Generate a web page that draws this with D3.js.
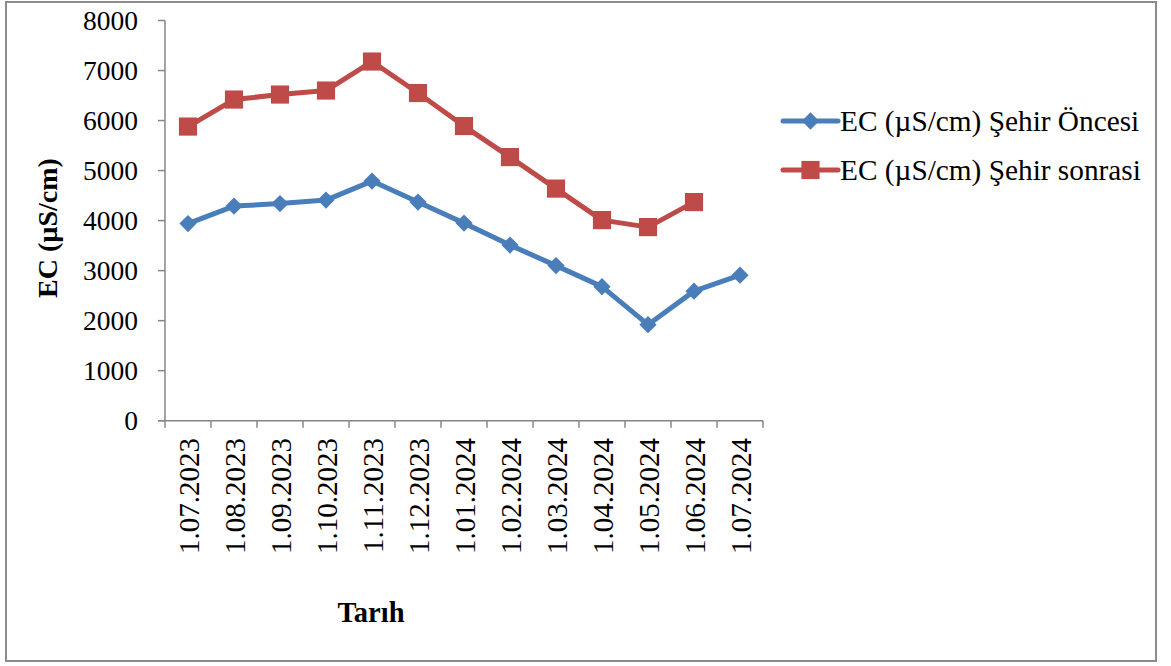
<!DOCTYPE html>
<html>
<head>
<meta charset="utf-8">
<script src="https://cdn.jsdelivr.net/npm/d3@7"></script>
<style>
  body { margin: 0; background: #fff; }
  text { font-family: "Liberation Serif", "Times New Roman", serif; fill: #000; }
</style>
</head>
<body>
<div id="chart"></div>
<script>
// categories and series
const dates = ['1.07.2023', '1.08.2023', '1.09.2023', '1.10.2023', '1.11.2023', '1.12.2023',
  '1.01.2024', '1.02.2024', '1.03.2024', '1.04.2024', '1.05.2024', '1.06.2024', '1.07.2024'];
const oncesi = [3940, 4290, 4340, 4410, 4790, 4370, 3950, 3510, 3100, 2680, 1920, 2590, 2910];
const sonrasi = [5880, 6420, 6520, 6600, 7180, 6550, 5890, 5270, 4640, 4010, 3870, 4370, null];
const yTicks = [0, 1000, 2000, 3000, 4000, 5000, 6000, 7000, 8000];
const seriesNames = ['EC (\u00b5S/cm) \u015eehir \u00d6ncesi', 'EC (\u00b5S/cm) \u015eehir sonrasi'];

var width = 1171, height = 666;
var axisColor = '#868686';
var colors = ['#4a7ebb', '#be4b48'];

var svg = d3.select('#chart').append('svg')
    .attr('width', width)
    .attr('height', height);

// outer frame
svg.append('rect')
    .attr('x', 6).attr('y', 2)
    .attr('width', 1150).attr('height', 659)
    .attr('fill', 'none')
    .attr('stroke', '#8c8c8c')
    .attr('stroke-width', 2);

var x = d3.scaleBand().domain(dates).range([165, 763]);
var y = d3.scaleLinear().domain([0, 8000]).range([420.7, 20.5]);
var cx = function(d) { return x(d) + x.bandwidth() / 2; };

// y axis
svg.append('line')
    .attr('x1', 165).attr('x2', 165)
    .attr('y1', y(8000)).attr('y2', y(0))
    .attr('stroke', axisColor).attr('stroke-width', 1.5);

svg.selectAll('.ytick')
    .data(yTicks)
  .enter().append('line')
    .attr('x1', 158).attr('x2', 165)
    .attr('y1', d => y(d)).attr('y2', d => y(d))
    .attr('stroke', axisColor).attr('stroke-width', 1.5);

svg.selectAll('.ylabel')
    .data(yTicks)
  .enter().append('text')
    .attr('x', 138)
    .attr('y', d => y(d))
    .attr('dy', '0.34em')
    .attr('text-anchor', 'end')
    .style('font-size', '27.5px')
    .text(d => d);

// x axis
svg.append('line')
    .attr('x1', 158).attr('x2', 763)
    .attr('y1', y(0)).attr('y2', y(0))
    .attr('stroke', axisColor).attr('stroke-width', 1.5);

svg.selectAll('.xtick')
    .data(dates.concat(['end']))
  .enter().append('line')
    .attr('x1', (d, i) => 165 + i * x.bandwidth())
    .attr('x2', (d, i) => 165 + i * x.bandwidth())
    .attr('y1', y(0)).attr('y2', y(0) + 7)
    .attr('stroke', axisColor).attr('stroke-width', 1.5);

svg.selectAll('.xlabel')
    .data(dates)
  .enter().append('text')
    .attr('transform', d => 'translate(' + (cx(d) + 1) + ',438) rotate(-90)')
    .attr('dy', '0.35em')
    .attr('text-anchor', 'end')
    .style('font-size', '29px')
    .text(d => d);

// axis titles
svg.append('text')
    .attr('transform', 'translate(47,228) rotate(-90)')
    .attr('dy', '0.35em')
    .attr('text-anchor', 'middle')
    .style('font-size', '28px')
    .style('font-weight', 'bold')
    .text('EC (\u00b5S/cm)');

svg.append('text')
    .attr('x', 371).attr('y', 622)
    .attr('text-anchor', 'middle')
    .style('font-size', '28.5px')
    .style('font-weight', 'bold')
    .text('Tar\u0131h');

// series
var diamond = d3.symbol().type(d3.symbolDiamond2).size(190);
var square = d3.symbol().type(d3.symbolSquare).size(330);
var series = [oncesi, sonrasi];
var markers = [diamond, square];

series.forEach(function(values, s) {
  var pts = dates.map((d, i) => ({ d: d, v: values[i] })).filter(p => p.v != null);

  svg.append('path')
      .datum(pts)
      .attr('fill', 'none')
      .attr('stroke', colors[s])
      .attr('stroke-width', 5)
      .attr('stroke-linejoin', 'round')
      .attr('d', d3.line().x(p => cx(p.d)).y(p => y(p.v)));

  svg.selectAll('.m' + s)
      .data(pts)
    .enter().append('path')
      .attr('transform', p => 'translate(' + cx(p.d) + ',' + y(p.v) + ')')
      .attr('d', markers[s])
      .attr('fill', colors[s]);
});

// legend
var legend = svg.selectAll('.legend')
    .data(seriesNames)
  .enter().append('g')
    .attr('transform', (d, i) => 'translate(783,' + (121 + i * 49) + ')');

legend.append('line')
    .attr('x1', 0).attr('x2', 55)
    .attr('stroke', (d, i) => colors[i])
    .attr('stroke-width', 5)
    .attr('stroke-linecap', 'round');

legend.append('path')
    .attr('transform', 'translate(27.5,0)')
    .attr('d', (d, i) => markers[i]())
    .attr('fill', (d, i) => colors[i]);

legend.append('text')
    .attr('x', 57)
    .attr('dy', '0.33em')
    .style('font-size', '29.3px')
    .text(d => d);
</script>
</body>
</html>
